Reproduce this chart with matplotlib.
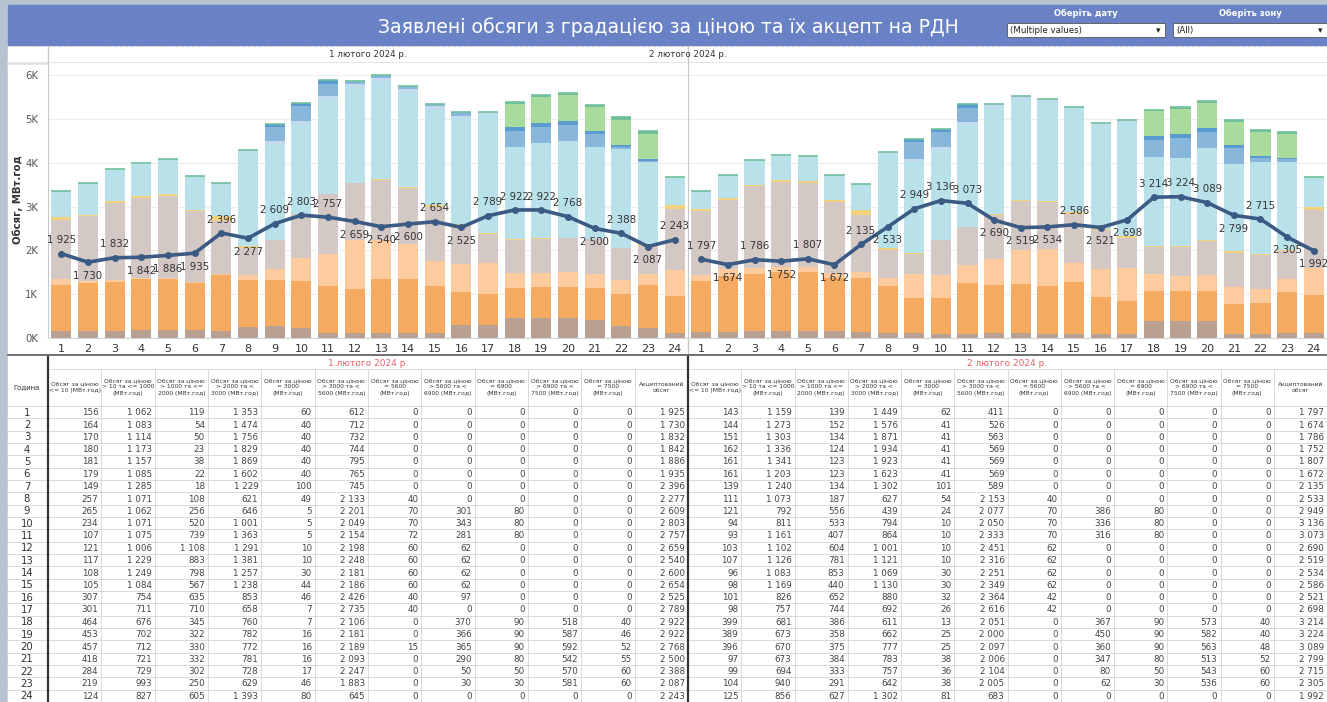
import matplotlib
matplotlib.use('Agg')
import matplotlib.pyplot as plt
from matplotlib.patches import Rectangle
from matplotlib.ticker import FuncFormatter
import numpy as np

# ---- data: 1 лютого 2024 р. ----
hours = list(range(1, 25))
le10_1 = [156, 164, 170, 180, 181, 179, 149, 257, 265, 234, 107, 121, 117, 108, 105, 307, 301, 464, 453, 457, 418, 284, 219, 124]
p10_1000_1 = [1062, 1083, 1114, 1173, 1157, 1085, 1285, 1071, 1062, 1071, 1075, 1006, 1229, 1249, 1084, 754, 711, 676, 702, 712, 721, 729, 993, 827]
p1000_2000_1 = [119, 54, 50, 23, 38, 22, 18, 108, 256, 520, 739, 1108, 883, 798, 567, 635, 710, 345, 322, 330, 332, 302, 250, 605]
p2000_3000_1 = [1353, 1474, 1756, 1829, 1869, 1602, 1229, 621, 646, 1001, 1363, 1291, 1381, 1257, 1238, 853, 658, 760, 782, 772, 781, 728, 629, 1393]
eq3000_1 = [60, 40, 40, 40, 40, 40, 100, 49, 5, 5, 5, 10, 10, 30, 44, 46, 7, 7, 16, 16, 16, 17, 46, 80]
p3000_5600_1 = [612, 712, 732, 744, 795, 765, 745, 2133, 2201, 2049, 2154, 2198, 2248, 2181, 2186, 2426, 2735, 2106, 2181, 2189, 2093, 2247, 1883, 645]
eq5600_1 = [0, 0, 0, 0, 0, 0, 0, 40, 70, 70, 72, 60, 60, 60, 60, 40, 40, 0, 0, 15, 0, 0, 0, 0]
p5600_6900_1 = [0, 0, 0, 0, 0, 0, 0, 0, 301, 343, 281, 62, 62, 62, 62, 97, 0, 370, 366, 365, 290, 50, 30, 0]
eq6900_1 = [0, 0, 0, 0, 0, 0, 0, 0, 80, 80, 80, 0, 0, 0, 0, 0, 0, 90, 90, 90, 80, 50, 30, 0]
p6900_7500_1 = [0, 0, 0, 0, 0, 0, 0, 0, 0, 0, 0, 0, 0, 0, 0, 0, 0, 518, 587, 592, 542, 570, 581, 0]
eq7500_1 = [0, 0, 0, 0, 0, 0, 0, 0, 0, 0, 0, 0, 0, 0, 0, 0, 0, 40, 46, 52, 55, 60, 60, 0]
accepted_1 = [1925, 1730, 1832, 1842, 1886, 1935, 2396, 2277, 2609, 2803, 2757, 2659, 2540, 2600, 2654, 2525, 2789, 2922, 2922, 2768, 2500, 2388, 2087, 2243]

# ---- data: 2 лютого 2024 р. ----
le10_2 = [143, 144, 151, 162, 161, 161, 139, 111, 121, 94, 93, 103, 107, 96, 98, 101, 98, 399, 389, 396, 97, 99, 104, 125]
p10_1000_2 = [1159, 1273, 1303, 1336, 1341, 1203, 1240, 1073, 792, 811, 1161, 1102, 1126, 1083, 1169, 826, 757, 681, 673, 670, 673, 694, 940, 856]
p1000_2000_2 = [139, 152, 134, 124, 123, 123, 134, 187, 556, 533, 407, 604, 781, 853, 440, 652, 744, 386, 358, 375, 384, 333, 291, 627]
p2000_3000_2 = [1449, 1576, 1871, 1934, 1923, 1623, 1302, 627, 439, 794, 864, 1001, 1121, 1069, 1130, 880, 692, 611, 662, 777, 783, 757, 642, 1302]
eq3000_2 = [62, 41, 41, 41, 41, 41, 101, 54, 24, 10, 10, 10, 10, 30, 30, 32, 26, 13, 25, 25, 38, 36, 38, 81]
p3000_5600_2 = [411, 526, 563, 569, 569, 569, 589, 2153, 2077, 2050, 2333, 2451, 2316, 2251, 2349, 2364, 2616, 2051, 2000, 2097, 2006, 2104, 2005, 683]
eq5600_2 = [0, 0, 0, 0, 0, 0, 0, 40, 70, 70, 70, 62, 62, 62, 62, 42, 42, 0, 0, 0, 0, 0, 0, 0]
p5600_6900_2 = [0, 0, 0, 0, 0, 0, 0, 0, 386, 336, 316, 0, 0, 0, 0, 0, 0, 367, 450, 360, 347, 80, 62, 0]
eq6900_2 = [0, 0, 0, 0, 0, 0, 0, 0, 80, 80, 80, 0, 0, 0, 0, 0, 0, 90, 90, 90, 80, 50, 30, 0]
p6900_7500_2 = [0, 0, 0, 0, 0, 0, 0, 0, 0, 0, 0, 0, 0, 0, 0, 0, 0, 573, 582, 563, 513, 543, 536, 0]
eq7500_2 = [0, 0, 0, 0, 0, 0, 0, 0, 0, 0, 0, 0, 0, 0, 0, 0, 0, 40, 40, 48, 52, 60, 60, 0]
accepted_2 = [1797, 1674, 1786, 1752, 1807, 1672, 2135, 2533, 2949, 3136, 3073, 2690, 2519, 2534, 2586, 2521, 2698, 3214, 3224, 3089, 2799, 2715, 2305, 1992]

days = ['1 лютого 2024 р.', '2 лютого 2024 р.']
col_headers = ['Обсяг за ціною\n<= 10 (МВт.год)',
               'Обсяг за ціною\n> 10 та <= 1000\n(МВт.год)',
               'Обсяг за ціною\n> 1000 та <=\n2000 (МВт.год)',
               'Обсяг за ціною\n> 2000 та <\n3000 (МВт.год)',
               'Обсяг за ціною\n= 3000\n(МВт.год)',
               'Обсяг за ціною\n> 3000 та <\n5600 (МВт.год)',
               'Обсяг за ціною\n= 5600\n(МВт.год)',
               'Обсяг за ціною\n> 5600 та <\n6900 (МВт.год)',
               'Обсяг за ціною\n= 6900\n(МВт.год)',
               'Обсяг за ціною\n> 6900 та <\n7500 (МВт.год)',
               'Обсяг за ціною\n= 7500\n(МВт.год)',
               'Акцептований\nобсяг']

colors = ['#b9a090', '#f4aa60', '#fdcb9d', '#d3c8c4', '#f2d27f', '#b8e1ea',
          '#c3d9ef', '#89b7dc', '#5a9bd0', '#a9db9d', '#70c09c']
line_color = '#3b5a84'

# where the labels of the line sit: 1 above, -1 below
label_side_1 = [1, -1, 1, -1, -1, -1, 1, -1, 1, 1, 1, -1, -1, -1, 1, -1, 1, 1, 1, 1, -1, 1, -1, 1]
label_side_2 = [1, -1, 1, -1, 1, -1, 1, -1, 1, 1, 1, -1, -1, -1, 1, -1, -1, 1, 1, 1, -1, 1, -1, -1]

stacks = [
    [le10_1, p10_1000_1, p1000_2000_1, p2000_3000_1, eq3000_1, p3000_5600_1,
     eq5600_1, p5600_6900_1, eq6900_1, p6900_7500_1, eq7500_1],
    [le10_2, p10_1000_2, p1000_2000_2, p2000_3000_2, eq3000_2, p3000_5600_2,
     eq5600_2, p5600_6900_2, eq6900_2, p6900_7500_2, eq7500_2],
]
accepted = [accepted_1, accepted_2]
label_sides = [label_side_1, label_side_2]

W, H = 1327, 702
fig = plt.figure(figsize=(W / 100, H / 100), dpi=100)
fig.patch.set_facecolor('#b6c4d2')


def frac(x0, y0, x1, y1):
    return [x0 / W, 1 - y1 / H, (x1 - x0) / W, (y1 - y0) / H]


def fmt(v):
    return f'{v:,}'.replace(',', ' ')


# overlay in pixel coordinates for the dashboard frame and the table
bg = fig.add_axes([0, 0, 1, 1])
bg.set_xlim(0, W)
bg.set_ylim(H, 0)
bg.axis('off')

bg.add_patch(Rectangle((8, 45), W - 8, H - 45, color='white'))
bg.add_patch(Rectangle((8, 5), W - 8, 40, color='#6882c5'))
bg.text(668, 27, 'Заявлені обсяги з градацією за ціною та їх акцепт на РДН',
        color='white', fontsize=13.6, ha='center', va='center')
bg.plot([8, W], [46, 46], color='#cfcfcf', lw=0.8, ls=(0, (3, 2)))

# filters
for label, val, x0, x1 in [('Оберіть дату', '(Multiple values)', 1007, 1165),
                           ('Оберіть зону', '(All)', 1173, 1327)]:
    bg.text((x0 + x1) / 2, 13, label, color='white', fontsize=6, ha='center',
            va='center', fontweight='bold')
    bg.add_patch(Rectangle((x0, 23), x1 - x0, 14, facecolor='white',
                           edgecolor='#555555', lw=0.6))
    bg.text(x0 + 3, 30.5, val, fontsize=6.2, color='#222222', va='center')
    bg.text(x1 - 7, 30.5, '▾', fontsize=6.5, color='#222222', va='center', ha='center')

# panel headers
for i, d in enumerate(days):
    xc = 48 + 320 * i + 320
    bg.text(xc, 54.5, d, fontsize=6.3, ha='center', va='center', color='#333333')
bg.plot([8, W], [62.5, 62.5], color='#e3e3e3', lw=2)
bg.plot([688, 688], [47, 355], color='#c8c8c8', lw=1)
bg.plot([48, 48], [47, 62], color='#c8c8c8', lw=1)

fig.text(18 / W, 1 - 200 / H, 'Обсяг, МВт.год', rotation=90, fontsize=7.3,
         ha='center', va='center', color='#333333', fontweight='bold')

# ---- charts ----
x = np.array(hours)
panels = [(48, 688), (688, 1327)]
for i, (x0, x1) in enumerate(panels):
    ax = fig.add_axes(frac(x0, 63, x1, 338))
    bottom = np.zeros(len(hours))
    for vals, c in zip(stacks[i], colors):
        ax.bar(x, vals, bottom=bottom, width=0.76, color=c, zorder=2)
        bottom += np.array(vals)
    # Tableau draws the empty top segment as a hairline
    ax.hlines(bottom, x - 0.38, x + 0.38, color=colors[-1], lw=1.2, zorder=2)
    ax.plot(x, accepted[i], color=line_color, lw=2.6, marker='o', ms=4, zorder=4)
    for h, v, s in zip(hours, accepted[i], label_sides[i]):
        ax.annotate(fmt(v), (h, v), xytext=(0, 6 * s), textcoords='offset points',
                    ha='center', va='bottom' if s > 0 else 'top', fontsize=7.4,
                    color='#333333', zorder=5)
    ax.set_xlim(0.5, 24.5)
    ax.set_ylim(0, 6275)
    ax.set_yticks(range(0, 7000, 1000))
    ax.yaxis.grid(True, color='#ededed', lw=0.8, zorder=0)
    ax.set_axisbelow(True)
    ax.set_xticks(hours)
    ax.tick_params(axis='x', length=0, labelsize=8, colors='#333333', pad=4)
    ax.tick_params(axis='y', length=0, labelsize=7.3, colors='#555555', pad=7)
    for sp in ['top', 'right']:
        ax.spines[sp].set_visible(False)
    ax.spines['bottom'].set_color('#d5d5d5')
    ax.spines['left'].set_color('#c8c8c8')
    if i == 0:
        ax.yaxis.set_major_formatter(FuncFormatter(lambda v, p: f'{int(v / 1000)}K'))
    else:
        ax.set_yticklabels([])

# ---- table ----
bg.plot([8, W], [354.5, 354.5], color='#555555', lw=1.2)
row_top, row_bot = 406, 702
nrows = len(hours)
rh = (row_bot - row_top) / nrows
ncol = len(col_headers)
for i in range(2):
    tx0 = panels[i][0] if i == 0 else 688
    tx1 = 688 if i == 0 else W
    cw = (tx1 - tx0) / ncol
    bg.text((tx0 + tx1) / 2, 363, days[i], color='#e8626a', fontsize=6.5,
            ha='center', va='center')
    bg.plot([tx0, tx1], [369, 369], color='#dcdcdc', lw=0.7)
    cols = stacks[i] + [accepted[i]]
    for j, head in enumerate(col_headers):
        cx0 = tx0 + j * cw
        bg.text(cx0 + cw / 2, 387, head, fontsize=4.3, ha='center', va='center',
                color='#333333', linespacing=1.35)
        if j > 0:
            bg.plot([cx0, cx0], [369, row_bot], color='#d4d4d4', lw=0.6)
        for r in range(nrows):
            y0 = row_top + r * rh
            bg.text(cx0 + cw - 3, y0 + rh / 2 + 0.5, fmt(cols[j][r]), fontsize=6.3,
                    ha='right', va='center', color='#444444')

for r in range(nrows):
    y0 = row_top + r * rh
    if r % 2 == 1:
        bg.add_patch(Rectangle((8, y0), W - 8, rh, color='#edf0f8', zorder=0.5))
    bg.plot([8, W], [y0, y0], color='#d4d4d4', lw=0.6)
    bg.text(27, y0 + rh / 2 + 0.5, str(hours[r]), fontsize=7.3, ha='center',
            va='center', color='#333333')
bg.text(27, 387, 'Година', fontsize=5, ha='center', va='center', color='#333333')
bg.plot([48, 48], [357, row_bot], color='#333333', lw=1.6)
bg.plot([688, 688], [357, row_bot], color='#333333', lw=1.6)

fig.savefig('out.png', dpi=100, facecolor=fig.get_facecolor())
